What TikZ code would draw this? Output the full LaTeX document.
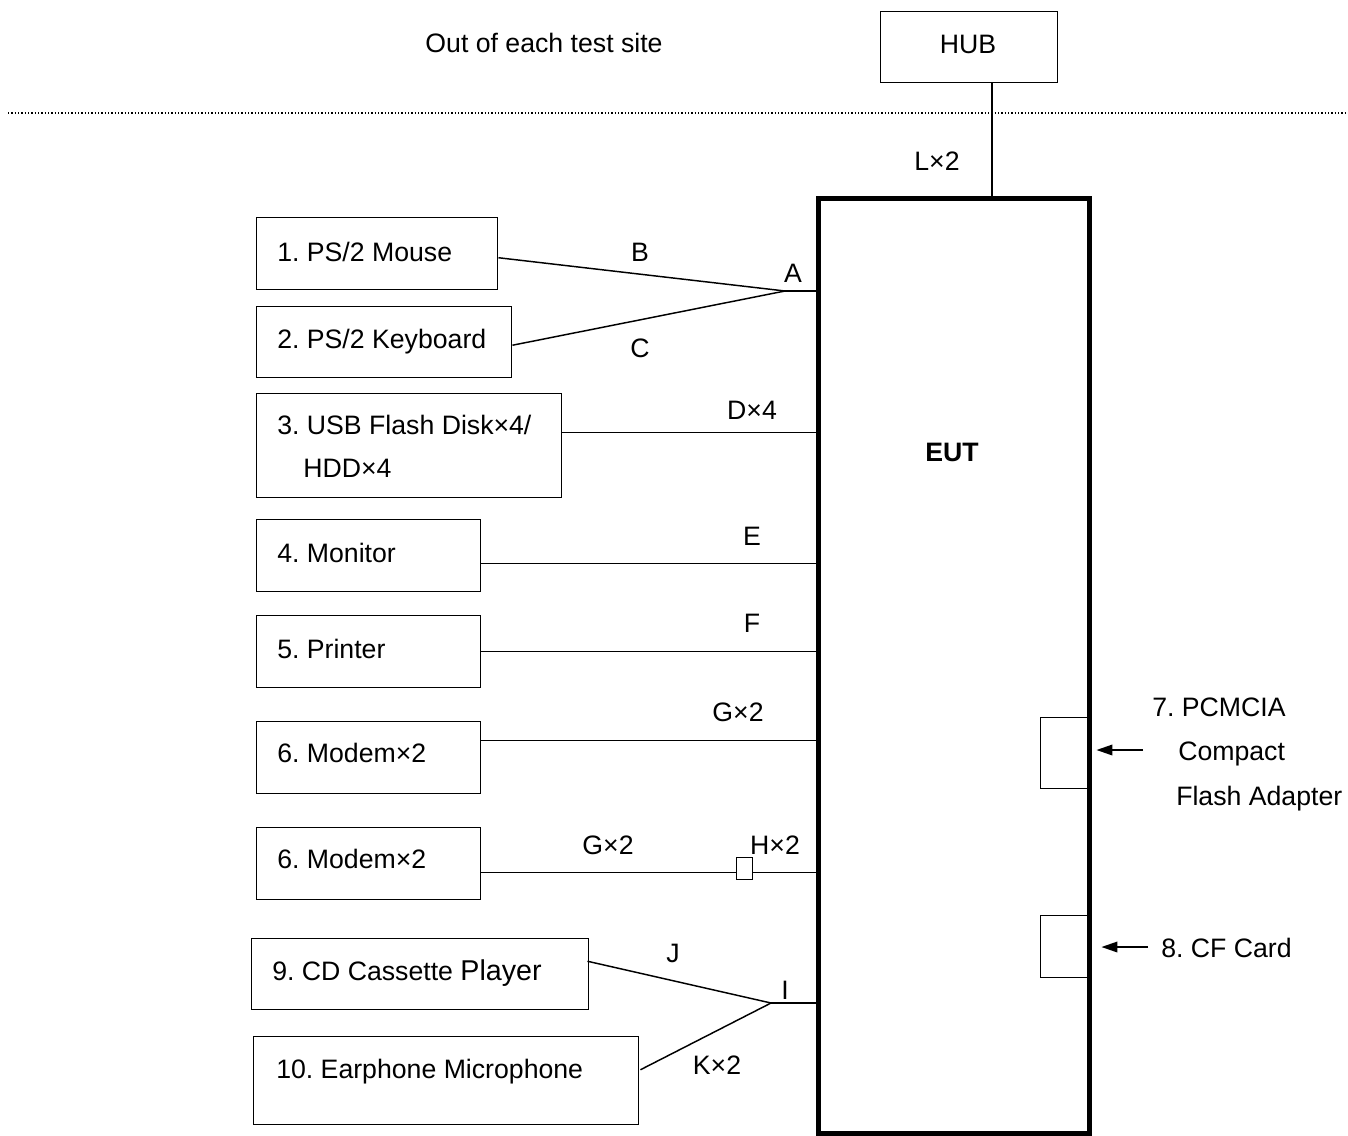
\documentclass[tikz,border=0pt]{standalone}
\usepackage{fontspec}
\setmainfont{Liberation Sans}
\usetikzlibrary{arrows.meta,calc}
\frenchspacing
\begin{document}
\begin{tikzpicture}[x=0.75pt,y=-0.75pt,
  box/.style={draw, line width=1.1pt, anchor=north west, inner sep=0pt},
  port/.style={draw, line width=1.1pt, anchor=north west, inner sep=0pt, fill=white},
  lbl/.style={font=\fontsize{20}{24}\selectfont, inner sep=0pt, anchor=base},
  txt/.style={font=\fontsize{20}{24}\selectfont, inner sep=0pt, anchor=base west},
  wire/.style={line width=1.1pt},
  arr/.style={line width=1.1pt, -{Triangle[length=12pt,width=8pt]}}]
\useasboundingbox (0,0) rectangle (1348,1135);

% outside area
\node[lbl] (site) at (544,52.5) {Out of each test site};
\node[box, minimum width=132.75pt, minimum height=53.25pt] (hub) at (880,11) {};
\node[lbl] (hubt) at (968,53.5) {HUB};
\coordinate (dl) at (8,113);
\coordinate (dr) at (1348,113);
\draw[line width=1.2pt, dash pattern=on 0.9pt off 1.6pt] (dl) -- (dr);

% EUT
\node[box, line width=3.8pt, minimum width=203.25pt, minimum height=701.25pt] (eut) at (816,196) {};
\node[lbl, font=\fontsize{20}{24}\selectfont\bfseries] (eutt) at (952,461.5) {EUT};
\coordinate (hubp) at (992,82);
\draw[wire] (hubp) -- (hubp |- eut.north);
\node[lbl] (L) at (937,170.5) {L×2};

% left boxes
\node[box, minimum width=180.75pt, minimum height=54pt] (m1) at (256,217) {};
\node[txt] (m1t) at (277,261.5) {1. PS/2 Mouse};
\node[box, minimum width=191.25pt, minimum height=53.25pt] (m2) at (256,306) {};
\node[txt] (m2t) at (277,348.5) {2. PS/2 Keyboard};
\node[box, minimum width=228.75pt, minimum height=78pt] (m3) at (256,393) {};
\node[txt] (m3t) at (277,434.5) {3. USB Flash Disk×4/};
\node[txt] (m3u) at (303,477.5) {HDD×4};
\node[box, minimum width=168pt, minimum height=54pt] (m4) at (256,519) {};
\node[txt] (m4t) at (277,562.5) {4. Monitor};
\node[box, minimum width=168pt, minimum height=54pt] (m5) at (256,615) {};
\node[txt] (m5t) at (277,658.5) {5. Printer};
\node[box, minimum width=168pt, minimum height=54pt] (m6) at (256,721) {};
\node[txt] (m6t) at (277,762.5) {6. Modem×2};
\node[box, minimum width=168pt, minimum height=54pt] (m7) at (256,827) {};
\node[txt] (m7t) at (277,868.5) {6. Modem×2};
\node[box, minimum width=252.75pt, minimum height=53.25pt] (m9) at (251,938) {};
\node[txt] (m9t) at (272,980.5) {9. CD Cassette {\fontsize{21.5}{25}\selectfont Player}};
\node[box, minimum width=288.75pt, minimum height=66pt] (m10) at (253,1036) {};
\node[txt] (m10t) at (276,1078.5) {10. Earphone Microphone};

% junctions
\coordinate (ja) at (785,291);
\coordinate (ji) at (771,1003);
\draw[wire] ($(m1.east)+(0,4)$) -- (ja);
\draw[wire] ($(m2.east)+(0,3)$) -- (ja);
\draw[wire] (ja) -- (ja -| eut.west);
\node[lbl] (B) at (640,261.5) {B};
\node[lbl] (C) at (640,357) {C};
\node[lbl] (A) at (793,282.5) {A};

\coordinate (c3) at ($(m3.east)+(0,-13)$);
\draw[wire] (c3) -- (c3 -| eut.west);
\node[lbl] (D) at (752,419.5) {D×4};
\coordinate (c4) at ($(m4.east)+(0,8)$);
\draw[wire] (c4) -- (c4 -| eut.west);
\node[lbl] (E) at (752,545.5) {E};
\coordinate (c5) at ($(m5.east)+(0,0)$);
\draw[wire] (c5) -- (c5 -| eut.west);
\node[lbl] (F) at (752,632.5) {F};
\coordinate (c6) at ($(m6.east)+(0,-17)$);
\draw[wire] (c6) -- (c6 -| eut.west);
\node[lbl] (G1) at (738,721.5) {G×2};

\coordinate (c7) at ($(m7.east)+(0,9)$);
\node[port, minimum width=12pt, minimum height=16.5pt] (hb) at (736,857) {};
\draw[wire] (c7) -- (c7 -| hb.west);
\draw[wire] (c7 -| hb.east) -- (c7 -| eut.west);
\node[lbl] (G2) at (608,854) {G×2};
\node[lbl] (H) at (775,854) {H×2};

\draw[wire] ($(m9.east)+(-2,-13)$) -- (ji);
\draw[wire] ($(m10.east)+(1,-11)$) -- (ji);
\draw[wire] (ji) -- (ji -| eut.west);
\node[lbl] (J) at (673,962.5) {J};
\node[lbl] (I) at (785,999.5) {I};
\node[lbl] (K) at (717,1074.5) {K×2};

% right side slots
\node[box, minimum width=36pt, minimum height=53.25pt] (pc) at (1040,717) {};
\node[box, minimum width=36pt, minimum height=46.5pt] (cf) at (1040,915) {};
\coordinate (a1) at (1143,750);
\coordinate (a2) at (1148,947);
\draw[arr] (a1) -- ($(pc.east |- a1)+(7,0)$);
\draw[arr] (a2) -- ($(cf.east |- a2)+(12,0)$);
\node[txt] (p1) at (1152,716.5) {7. PCMCIA};
\node[txt] (p2) at (1178,760.5) {Compact};
\node[txt] (p3) at (1176,805.5) {Flash Adapter};
\node[txt] (cft) at (1161,957) {8. CF Card};
\end{tikzpicture}
\end{document}
